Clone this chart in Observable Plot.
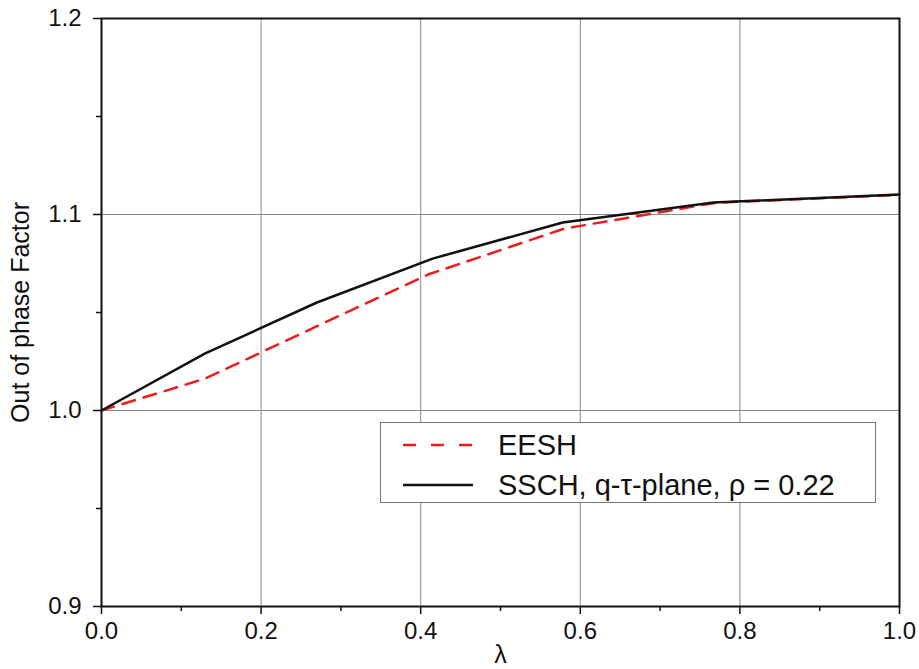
<!DOCTYPE html>
<html>
<head>
<meta charset="utf-8">
<script src="https://cdn.jsdelivr.net/npm/d3@7"></script>
<script src="https://cdn.jsdelivr.net/npm/@observablehq/plot@0.6"></script>
<style>
  html, body { margin: 0; padding: 0; background: #fff; }
  #wrap { position: relative; width: 919px; height: 669px; font-family: "Liberation Sans", Arial, sans-serif; }
  #legend { position: absolute; left: 380px; top: 422px; width: 496px; height: 81px; border: 1.5px solid #777; background: #fff; box-sizing: border-box; }
  #legend .row { position: absolute; left: 0; height: 34px; display: flex; align-items: center; font-size: 29px; color: #111; white-space: nowrap; }
  #legend svg { margin-left: 22px; margin-right: 25px; }
</style>
</head>
<body>
<div id="wrap"></div>
<script>
// Data
const lambdaEESH = [0, 0.13, 0.27, 0.41, 0.58, 0.77, 1.0];
const valuesEESH = [1.0, 1.0163, 1.043, 1.0695, 1.0928, 1.106, 1.110];
const lambdaSSCH = [0, 0.13, 0.27, 0.415, 0.578, 0.767, 1.0];
const valuesSSCH = [1.0, 1.0291, 1.0551, 1.0775, 1.0959, 1.1061, 1.1102];
const seriesNames = ["EESH", "SSCH, q-\u03c4-plane, \u03c1 = 0.22"];
const xMajor = [0, 0.2, 0.4, 0.6, 0.8, 1.0];
const xMinor = [0.1, 0.3, 0.5, 0.7, 0.9];
const yMajor = [0.9, 1.0, 1.1, 1.2];
const yMinor = [0.95, 1.05, 1.15];
const xLabel = "\u03bb";
const yLabel = "Out of phase Factor";

const eesh = lambdaEESH.map((x, i) => ({x, y: valuesEESH[i]}));
const ssch = lambdaSSCH.map((x, i) => ({x, y: valuesSSCH[i]}));

const chart = Plot.plot({
  width: 919,
  height: 669,
  marginLeft: 101,
  marginRight: 20,
  marginTop: 18,
  marginBottom: 63,
  style: {fontFamily: "'Liberation Sans', Arial, sans-serif", color: "#111", background: "#fff"},
  x: {domain: [0, 1]},
  y: {domain: [0.9, 1.2]},
  marks: [
    Plot.ruleX(xMajor, {stroke: "#888", strokeWidth: 1}),
    Plot.ruleY(yMajor, {stroke: "#888", strokeWidth: 1}),
    Plot.line(eesh, {x: "x", y: "y", stroke: "#ee1c1c", strokeWidth: 2.5, strokeDasharray: "13,9"}),
    Plot.line(ssch, {x: "x", y: "y", stroke: "#111", strokeWidth: 2.5}),
    Plot.axisX(xMajor, {tickSize: 8, tickPadding: 7, tickFormat: d3.format(".1f"), fontSize: 24, strokeWidth: 1.5, label: xLabel, labelAnchor: "center", labelArrow: "none", labelOffset: 56}),
    Plot.axisX(xMinor, {tickSize: 5, text: null, strokeWidth: 1.5, label: null}),
    Plot.axisY(yMajor, {tickSize: 8, tickPadding: 12, tickFormat: d3.format(".1f"), fontSize: 24, strokeWidth: 1.5, label: yLabel, labelAnchor: "center", labelArrow: "none", labelOffset: 90}),
    Plot.axisY(yMinor, {tickSize: 5, text: null, strokeWidth: 1.5, label: null}),
    Plot.frame({stroke: "#111", strokeWidth: 2})
  ]
});
// enforce font sizes on every axis text element
d3.select(chart).selectAll("text").each(function() {
  const t = this.textContent;
  const isLabel = t === xLabel || t === yLabel;
  this.style.fontSize = isLabel ? "25px" : "24px";
});
const wrap = document.getElementById("wrap");
wrap.appendChild(chart);

// Legend
const legend = document.createElement("div");
legend.id = "legend";
const styles = [{stroke: "#ee1c1c", dash: "13,15"}, {stroke: "#111", dash: null}];
seriesNames.forEach((name, i) => {
  const row = document.createElement("div");
  row.className = "row";
  row.style.top = (i === 0 ? 5 : 45) + "px";
  const s = styles[i];
  row.innerHTML = `<svg width="70" height="6"><line x1="0" y1="3" x2="70" y2="3" stroke="${s.stroke}" stroke-width="2.5" ${s.dash ? `stroke-dasharray="${s.dash}"` : ""}/></svg><span>${name}</span>`;
  legend.appendChild(row);
});
wrap.appendChild(legend);
</script>
</body>
</html>
